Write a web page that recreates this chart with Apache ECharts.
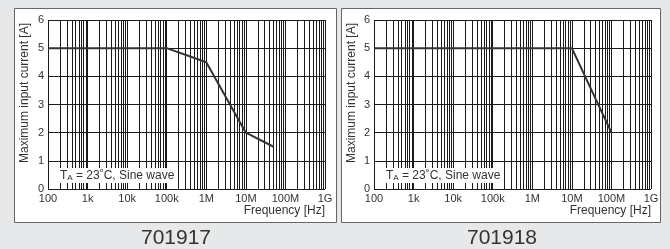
<!DOCTYPE html>
<html><head><meta charset="utf-8">
<script src="https://cdn.jsdelivr.net/npm/echarts@6/dist/echarts.min.js"></script>
<style>html,body{margin:0;padding:0;background:#e7e8ea;}#c{width:670px;height:249px;}</style>
</head><body><div id="c"></div>
<script>
// Data
const freq917 = [100, 1e5, 1e6, 1e7, 5e7];
const curr917 = [5, 5, 4.5, 2, 1.5];
const freq918 = [100, 1e7, 1e8];
const curr918 = [5, 5, 2];
const xTickLabels = {100:'100',1e3:'1k',1e4:'10k',1e5:'100k',1e6:'1M',1e7:'10M',1e8:'100M',1e9:'1G'};
const decades = [100, 1e3, 1e4, 1e5, 1e6, 1e7, 1e8];
const minorMult = [2,3,4,5,6,7,8,9];
const captions = ['701917', '701918'];
const yName = 'Maximum input current [A]';
const xName = 'Frequency [Hz]';

const FONT = 'Liberation Sans, Arial, sans-serif';
const grids = [{left:48, right:345, top:20, bottom:60}, {left:374, right:19, top:20, bottom:60}];
const panels = [[14,8,322,214],[341,8,319,214]];

const minorLines = [];
decades.forEach(d => minorMult.forEach(m => minorLines.push({xAxis: d*m})));

const chart = echarts.init(document.getElementById('c'), null, {renderer:'canvas'});
const xAxes = [], yAxes = [], series = [];
[0,1].forEach(i => {
  xAxes.push({type:'log', logBase:10, gridIndex:i, min:100, max:1e9, interval:1,
    axisLine:{show:false}, axisTick:{show:false},
    axisLabel:{color:'#333', fontSize:11, fontFamily:FONT, margin:4, formatter:v=>xTickLabels[v]||''},
    splitLine:{show:true, lineStyle:{color:'#1a1a1a', width:1}}});
  yAxes.push({type:'value', gridIndex:i, min:0, max:6, interval:1,
    axisLine:{show:false}, axisTick:{show:false},
    axisLabel:{color:'#333', fontSize:11, fontFamily:FONT, margin:4},
    splitLine:{show:true, lineStyle:{color:'#1a1a1a', width:1}}});
});
const fs = [freq917, freq918], cs = [curr917, curr918];
[0,1].forEach(i => {
  series.push({type:'line', xAxisIndex:i, yAxisIndex:i, symbol:'none', silent:true,
    data: fs[i].map((f,k)=>[f, cs[i][k]]),
    lineStyle:{color:'#333', width:2}, z:5,
    markLine:{silent:true, symbol:'none', label:{show:false}, animation:false,
      lineStyle:{color:'#1a1a1a', width:1, type:'solid'}, data: minorLines}
  });
});

const graphic = [];
panels.forEach(p => graphic.push({type:'rect', z:-10, shape:{x:p[0]+0.5,y:p[1]+0.5,width:p[2],height:p[3]},
  style:{fill:'#fff', stroke:'#666', lineWidth:1}, silent:true}));
const plotL = [48, 374], plotR = [325, 651];
[0,1].forEach(i => {
  graphic.push({type:'text', z:20, x:25 + (i? 327:0), y:93, rotation:Math.PI/2,
    style:{text:yName, font:'12px '+FONT, fill:'#333', align:'center', verticalAlign:'middle'}});
  graphic.push({type:'text', z:20, x:plotR[i], y:211,
    style:{text:xName, font:'12px '+FONT, fill:'#333', align:'right', verticalAlign:'middle'}});
  graphic.push({type:'rect', z:20, shape:{x:plotL[i]+1, y:168, width: (i?126:123), height:15},
    style:{fill:'#fff'}});
  graphic.push({type:'text', z:21, x:plotL[i]+12, y:176,
    style:{text:'{t|T}{s|A}{t| = 23˚C, Sine wave}', verticalAlign:'middle', align:'left',
      rich:{t:{font:'12px '+FONT, fill:'#333', verticalAlign:'bottom'}, s:{font:'8px '+FONT, fill:'#333', verticalAlign:'bottom'}}}});
  graphic.push({type:'text', z:20, x:(i?502:176), y:238,
    style:{text:captions[i], font:'21px '+FONT, fill:'#333', align:'center', verticalAlign:'middle'}});
});

chart.setOption({
  animation:false,
  backgroundColor:'#e7e8ea',
  grid: grids,
  xAxis: xAxes, yAxis: yAxes, series: series, graphic: graphic
});
</script></body></html>
